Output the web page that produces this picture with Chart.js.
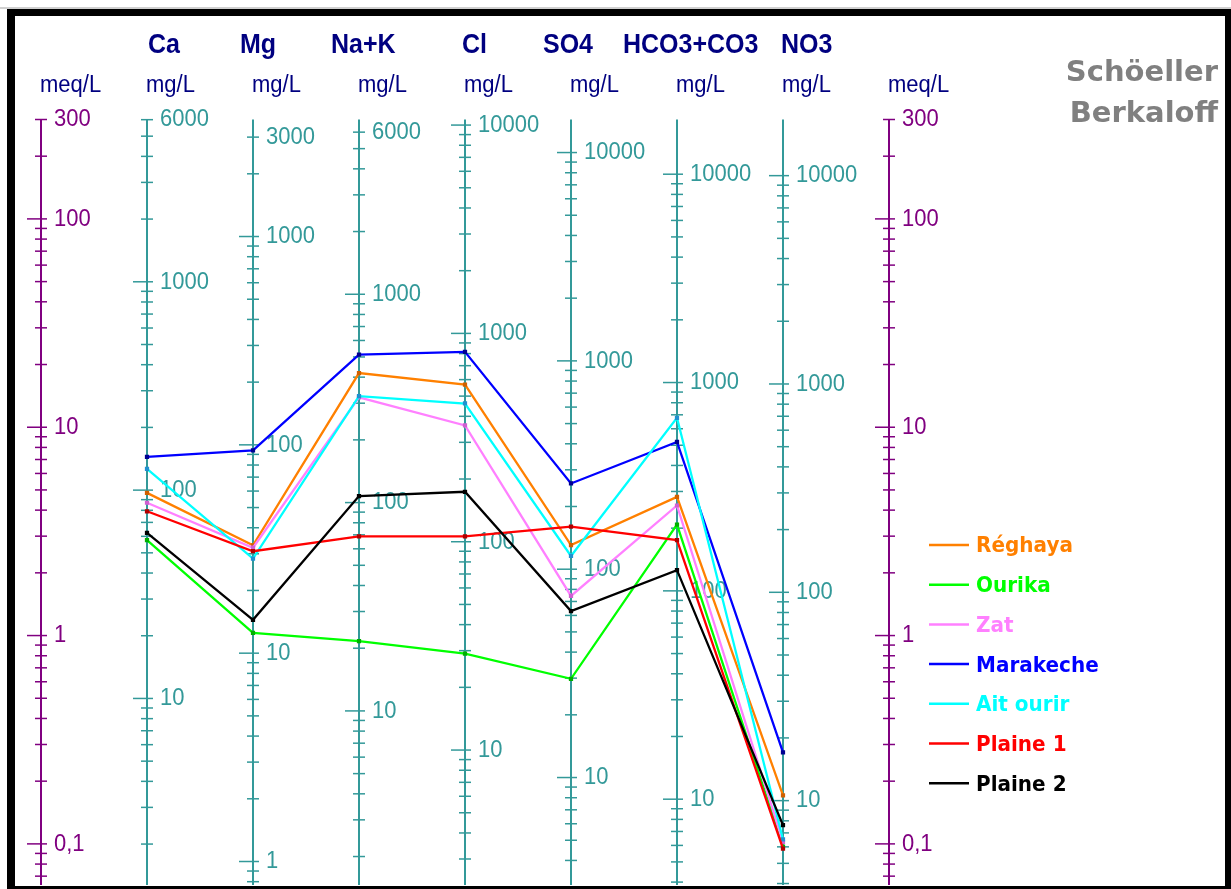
<!DOCTYPE html>
<html>
<head>
<meta charset="utf-8">
<title>Schöeller Berkaloff</title>
<script src="https://cdn.jsdelivr.net/npm/chart.js@4.4.1/dist/chart.umd.min.js"></script>
<style>
  body { margin: 0; background: #fff; }
  canvas { display: block; }
</style>
</head>
<body>
<canvas id="schoeller" width="1231" height="889"></canvas>
<script>
// ions, left to right
const ions = ["Ca", "Mg", "Na+K", "Cl", "SO4", "HCO3+CO3", "NO3"];
// mg/L that make 1 meq/L
const eqWeight = [20.04, 12.15, 23.0, 35.45, 48.03, 61.02, 62.0];

const stations = ["Réghaya", "Ourika", "Zat", "Marakeche", "Ait ourir", "Plaine 1", "Plaine 2"];

// concentrations in meq/L, same order as ions
const reghaya   = [4.84, 2.71, 18.2, 16.0, 2.72, 4.63, 0.171];
const ourika    = [2.87, 1.03, 0.94, 0.82, 0.62, 3.41, 0.097];
const zat       = [4.34, 2.64, 13.9, 10.2, 1.55, 4.21, 0.102];
const marakeche = [7.20, 7.75, 22.3, 23.0, 5.37, 8.50, 0.275];
const aitOurir  = [6.31, 2.34, 14.1, 13.0, 2.41, 11.1, 0.105];
const plaine1   = [3.95, 2.54, 2.99, 2.99, 3.33, 2.87, 0.095];
const plaine2   = [3.11, 1.19, 4.67, 4.90, 1.31, 2.06, 0.123];

// labelled ticks
const meqTicks = [300, 100, 10, 1, 0.1];
const meqTickLabels = ["300", "100", "10", "1", "0,1"];
const mgTicks = [
  [6000, 1000, 100, 10],
  [3000, 1000, 100, 10, 1],
  [6000, 1000, 100, 10],
  [10000, 1000, 100, 10],
  [10000, 1000, 100, 10],
  [10000, 1000, 100, 10],
  [10000, 1000, 100, 10]
];

const series = [reghaya, ourika, zat, marakeche, aitOurir, plaine1, plaine2];
const colors = ["#ff8000", "#00ff00", "#ff80ff", "#0000ff", "#00ffff", "#ff0000", "#000000"];
const markColors = ["#d06000", "#00b000", "#d060d0", "#000090", "#2090d0", "#b00000", "#000000"];

const purple = "#800080", teal = "#339999", navy = "#000080";
const headShift = [1, -13, -28, -3, -28, -54, -2];
const sans = "'Liberation Sans', Arial, sans-serif";

function seg(ctx, x1, y1, x2, y2) {
  ctx.beginPath();
  ctx.moveTo(x1, y1);
  ctx.lineTo(x2, y2);
  ctx.stroke();
}

// text a little taller than wide, like the original export
function tallText(ctx, s, x, y, sy) {
  ctx.save();
  ctx.translate(x, y);
  ctx.scale(1, sy);
  ctx.fillText(s, 0, 0);
  ctx.restore();
}

// one vertical scale: line, log ticks, labels
function drawAxis(chart, slot, weight, values, texts, color) {
  const ctx = chart.ctx, xs = chart.scales.x, ys = chart.scales.y;
  const area = chart.chartArea;
  const x = Math.round(xs.getPixelForValue(slot));
  ctx.save();
  ctx.strokeStyle = color;
  ctx.lineWidth = 2;
  seg(ctx, x, area.top, x, area.bottom);
  ctx.lineWidth = 1.5;
  for (let e = -2; e <= 5; e++) {
    for (let m = 1; m <= 9; m++) {
      const meq = m * Math.pow(10, e) / weight;
      if (meq < ys.min || meq > ys.max * 1.0001) continue;
      const y = ys.getPixelForValue(meq);
      seg(ctx, x - (m === 1 ? 14 : 6), y, x + 6, y);
    }
  }
  ctx.fillStyle = color;
  ctx.font = "22px " + sans;
  ctx.textBaseline = "middle";
  ctx.textAlign = "left";
  values.forEach((v, i) => {
    tallText(ctx, texts[i], x + 13, ys.getPixelForValue(v / weight), 1.12);
  });
  ctx.restore();
}

const schoellerPlugin = {
  id: "schoeller",
  beforeDraw(chart) {
    const ctx = chart.ctx;
    ctx.save();
    ctx.fillStyle = "#fff";
    ctx.fillRect(0, 0, chart.width, chart.height);
    ctx.restore();
  },
  beforeDatasetsDraw(chart) {
    drawAxis(chart, 0, 1, meqTicks, meqTickLabels, purple);
    drawAxis(chart, ions.length + 1, 1, meqTicks, meqTickLabels, purple);
    ions.forEach((ion, i) => {
      drawAxis(chart, i + 1, eqWeight[i], mgTicks[i], mgTicks[i].map(String), teal);
    });
  },
  afterDraw(chart) {
    const ctx = chart.ctx, xs = chart.scales.x;
    ctx.save();
    ctx.textAlign = "left";
    ctx.textBaseline = "alphabetic";

    // ion names and units
    ctx.fillStyle = navy;
    ctx.font = "bold 25px " + sans;
    ions.forEach((ion, i) => {
      tallText(ctx, ion, Math.round(xs.getPixelForValue(i + 1)) + headShift[i], 53, 1.08);
    });
    ctx.font = "22px " + sans;
    tallText(ctx, "meq/L", Math.round(xs.getPixelForValue(0)) - 1, 92, 1.1);
    tallText(ctx, "meq/L", Math.round(xs.getPixelForValue(ions.length + 1)) - 1, 92, 1.1);
    ions.forEach((ion, i) => {
      tallText(ctx, "mg/L", Math.round(xs.getPixelForValue(i + 1)) - 1, 92, 1.1);
    });

    // title
    ctx.fillStyle = "#808080";
    ctx.font = "bold 29px 'DejaVu Sans', sans-serif";
    ctx.textAlign = "right";
    ctx.fillText("Schöeller", 1218, 81);
    ctx.fillText("Berkaloff", 1218, 122);

    // legend
    ctx.textAlign = "left";
    ctx.textBaseline = "middle";
    ctx.font = "bold 20px 'DejaVu Sans', sans-serif";
    chart.data.datasets.forEach((ds, i) => {
      const y = 545 + i * 39.7;
      ctx.strokeStyle = ds.borderColor;
      ctx.lineWidth = 2.5;
      seg(ctx, 929, y, 969, y);
      ctx.fillStyle = ds.borderColor;
      tallText(ctx, ds.label, 976, y + 2, 1.05);
    });

    // window frame
    ctx.fillStyle = "#d0d0d0";
    ctx.fillRect(0, 7, chart.width, 2);
    ctx.fillStyle = "#000";
    ctx.fillRect(7, 9, 8, chart.height - 9);
    ctx.fillRect(7, 9, chart.width - 7, 7);
    ctx.fillRect(chart.width - 6, 9, 6, chart.height - 9);
    ctx.fillRect(7, chart.height - 3, chart.width - 7, 3);
    ctx.restore();
  }
};

const ctxS = document.getElementById("schoeller").getContext("2d");
const schoellerChart = new Chart(ctxS, {
  type: "line",
  data: {
    datasets: stations.map((name, i) => ({
      label: name,
      data: series[i].map((v, j) => ({ x: j + 1, y: v })),
      borderColor: colors[i],
      backgroundColor: colors[i],
      borderWidth: 2.3,
      pointStyle: "rect",
      pointRadius: 3,
      pointBackgroundColor: markColors[i],
      pointBorderColor: markColors[i],
      pointBorderWidth: 0,
      tension: 0,
      fill: false,
      order: stations.length - i
    }))
  },
  options: {
    responsive: false,
    animation: false,
    events: [],
    layout: { padding: { left: 15, right: 6, top: 119.5, bottom: 3 } },
    plugins: {
      legend: { display: false },
      tooltip: { enabled: false }
    },
    scales: {
      x: { type: "linear", min: -0.2453, max: 11.17, display: false },
      y: { type: "logarithmic", min: 0.06348, max: 300, display: false }
    }
  },
  plugins: [schoellerPlugin]
});
</script>
</body>
</html>
